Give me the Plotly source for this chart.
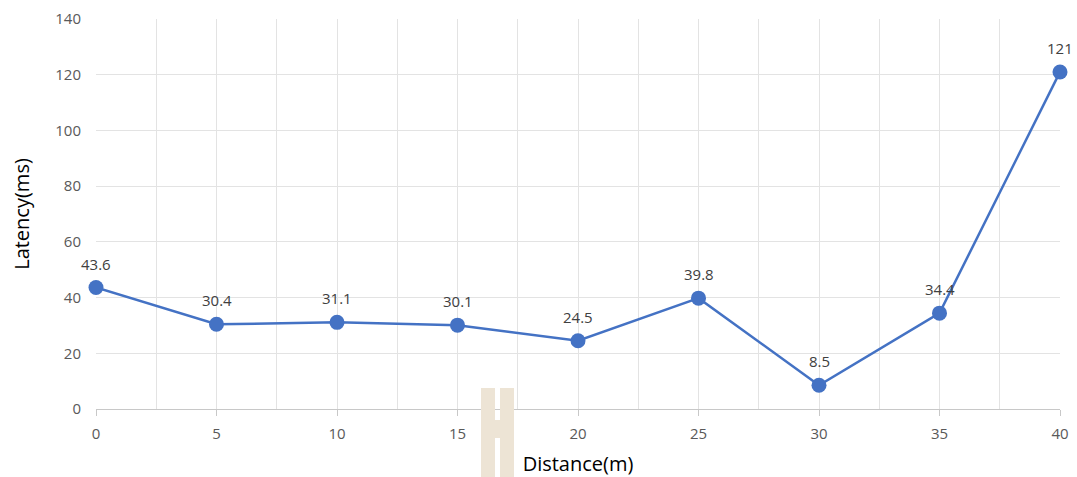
import plotly.graph_objects as go

# Measured latency at each distance
distance_m = [0, 5, 10, 15, 20, 25, 30, 35, 40]
latency_ms = [43.6, 30.4, 31.1, 30.1, 24.5, 39.8, 8.5, 34.4, 121]
latency_labels = ["43.6", "30.4", "31.1", "30.1", "24.5", "39.8", "8.5", "34.4", "121"]

x_ticks = [0, 5, 10, 15, 20, 25, 30, 35, 40]
y_ticks = [0, 20, 40, 60, 80, 100, 120, 140]

BLUE = "#4472C4"
GRID = "#E3E3E3"
FONT = "Open Sans, DejaVu Sans, sans-serif"
TICK_FONT = dict(family=FONT, size=15, color="#595959")

fig = go.Figure()
fig.add_trace(go.Scatter(
    x=distance_m,
    y=latency_ms,
    mode="lines+markers",
    line=dict(color=BLUE, width=2.5),
    marker=dict(color=BLUE, size=15),
    cliponaxis=False,
    showlegend=False,
))

# Value labels above each point
for xv, yv, lab in zip(distance_m, latency_ms, latency_labels):
    fig.add_annotation(x=xv, y=yv, text=lab, showarrow=False,
                       yshift=24, font=dict(family=FONT, size=15, color="#404040"))

fig.update_xaxes(
    range=[0, 40],
    tickvals=x_ticks,
    ticktext=[str(v) for v in x_ticks],
    showgrid=True, gridcolor=GRID, gridwidth=1,
    minor=dict(dtick=2.5, tick0=0, showgrid=True, gridcolor=GRID, gridwidth=1),
    showline=True, linecolor="#C8C8C8", linewidth=1,
    ticks="outside", ticklen=6, tickcolor="#C8C8C8",
    tickfont=TICK_FONT,
    ticklabelstandoff=5,
    zeroline=False,
    automargin=False,
    title=dict(text="Distance(m)", font=dict(family=FONT, size=20, color="#000000"), standoff=16),
)
fig.update_yaxes(
    range=[0, 140],
    tickvals=y_ticks,
    showgrid=True, gridcolor=GRID, gridwidth=1,
    showline=False, zeroline=False,
    tickfont=TICK_FONT,
    ticklabelstandoff=14,
    automargin=False,
    title=dict(text="Latency(ms)", font=dict(family=FONT, size=20, color="#000000"), standoff=20),
)

# Beige "H" mark sitting over the axis area
beige = "#EDE4D5"
for x0, x1, y0, y1 in [
    (481, 495, 388, 477),
    (500, 514, 388, 477),
    (495, 500, 420, 438),
]:
    fig.add_shape(type="rect", xref="paper", yref="paper",
                  x0=(x0 - 96) / 964, x1=(x1 - 96) / 964,
                  y0=(409 - y1) / 390, y1=(409 - y0) / 390,
                  fillcolor=beige, line=dict(width=0), layer="above")

fig.update_layout(
    width=1077, height=477,
    margin=dict(l=96, r=17, t=19, b=68),
    plot_bgcolor="white", paper_bgcolor="white",
)

fig.write_html("out.html")
